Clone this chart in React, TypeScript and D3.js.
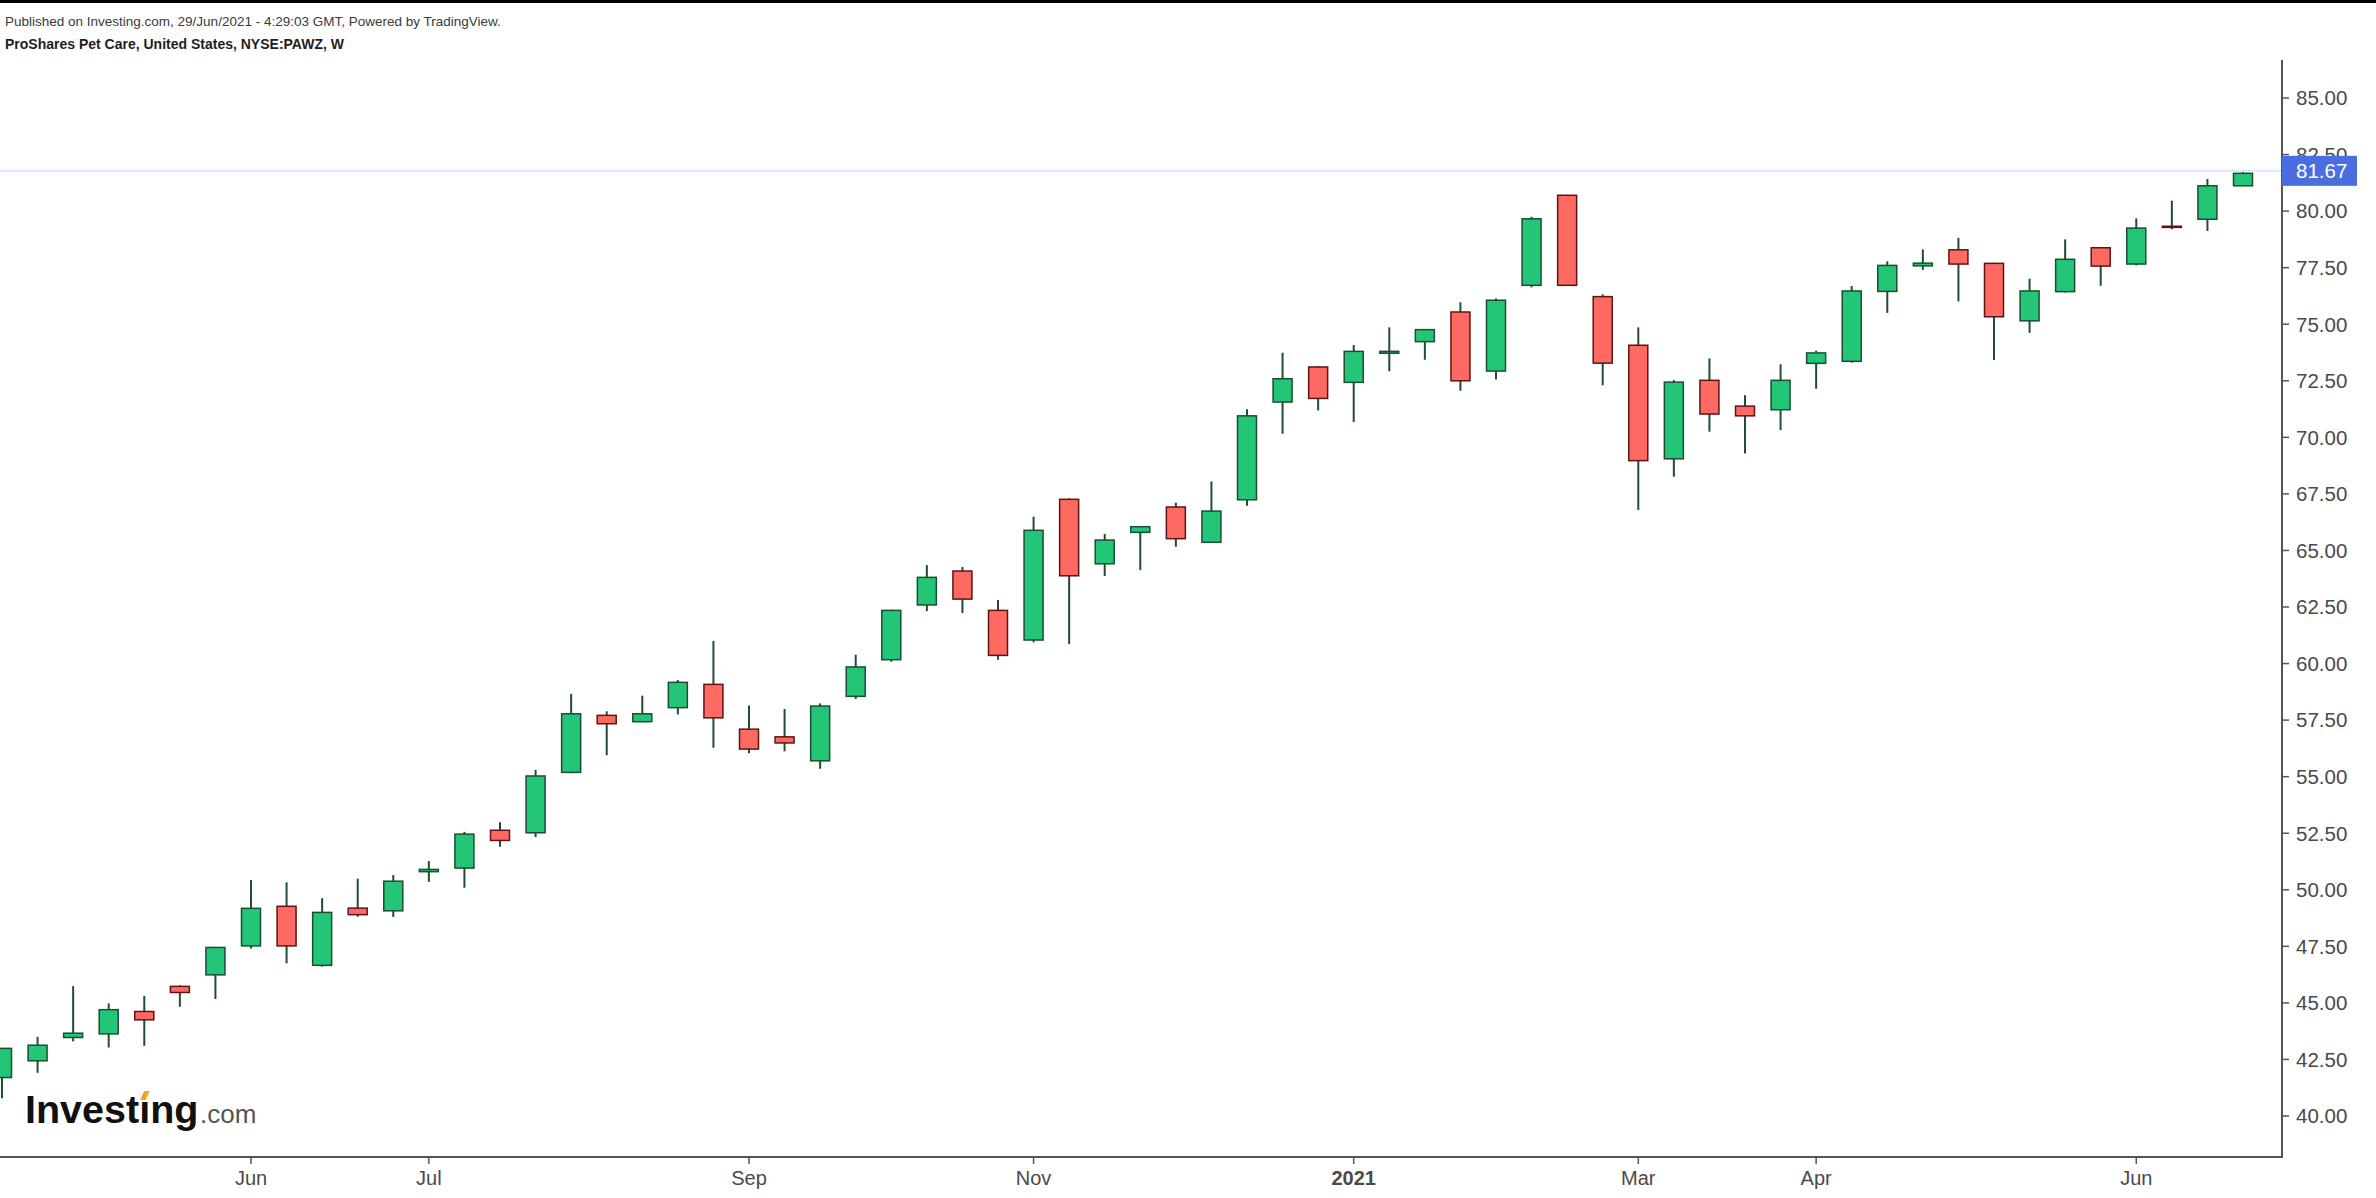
import React, { useLayoutEffect, useRef, useState } from "react";
import * as d3 from "d3";

// Weekly bars, NYSE:PAWZ
const dates = [
  "2020-04-13","2020-04-20","2020-04-27","2020-05-04","2020-05-11","2020-05-18","2020-05-25","2020-06-01",
  "2020-06-08","2020-06-15","2020-06-22","2020-06-29","2020-07-06","2020-07-13","2020-07-20","2020-07-27",
  "2020-08-03","2020-08-10","2020-08-17","2020-08-24","2020-08-31","2020-09-07","2020-09-14","2020-09-21",
  "2020-09-28","2020-10-05","2020-10-12","2020-10-19","2020-10-26","2020-11-02","2020-11-09","2020-11-16",
  "2020-11-23","2020-11-30","2020-12-07","2020-12-14","2020-12-21","2020-12-28","2021-01-04","2021-01-11",
  "2021-01-18","2021-01-25","2021-02-01","2021-02-08","2021-02-15","2021-02-22","2021-03-01","2021-03-08",
  "2021-03-15","2021-03-22","2021-03-29","2021-04-05","2021-04-12","2021-04-19","2021-04-26","2021-05-03",
  "2021-05-10","2021-05-17","2021-05-24","2021-05-31","2021-06-07","2021-06-14","2021-06-21","2021-06-28"
];

const opens = [
  41.70, 42.44, 43.47, 43.63, 44.62, 45.73, 46.24, 47.52,
  49.27, 46.66, 49.19, 49.07, 50.80, 50.96, 52.63, 52.52,
  55.19, 57.71, 57.43, 58.05, 59.08, 57.10, 56.76, 55.70,
  58.55, 60.17, 62.59, 64.09, 62.35, 61.04, 67.26, 64.41,
  65.80, 66.92, 65.36, 67.24, 71.56, 73.11, 72.43, 73.72,
  74.23, 75.54, 72.93, 76.72, 80.70, 76.22, 74.07, 69.05,
  72.52, 71.38, 71.22, 73.27, 73.36, 76.45, 77.58, 78.29,
  77.69, 75.15, 76.44, 78.38, 77.66, 79.33, 79.64, 81.12
];

const highs = [
  43.00, 43.50, 45.74, 44.98, 45.31, 45.78, 47.48, 50.43,
  50.33, 49.63, 50.49, 50.65, 51.27, 52.56, 52.98, 55.30,
  58.66, 57.89, 58.58, 59.27, 61.00, 58.15, 57.99, 58.24,
  60.39, 62.38, 64.35, 64.27, 62.81, 66.49, 67.30, 65.73,
  66.08, 67.11, 68.05, 71.24, 73.74, 73.14, 74.08, 74.86,
  74.78, 75.97, 76.14, 79.75, 80.72, 76.32, 74.86, 72.53,
  73.49, 71.86, 73.23, 73.83, 76.69, 77.78, 78.31, 78.82,
  77.72, 77.01, 78.75, 78.40, 79.68, 80.46, 81.42, 81.72
];

const lows = [
  40.78, 41.91, 43.30, 43.03, 43.10, 44.83, 45.17, 47.40,
  46.75, 46.60, 48.81, 48.80, 50.35, 50.09, 51.90, 52.33,
  55.15, 55.95, 57.40, 57.75, 56.28, 56.03, 56.12, 55.35,
  58.43, 60.08, 62.32, 62.23, 60.17, 60.94, 60.86, 63.87,
  64.13, 65.16, 65.33, 66.98, 70.16, 71.19, 70.68, 72.92,
  73.43, 72.06, 72.56, 76.63, 76.70, 72.30, 66.79, 68.26,
  70.25, 69.29, 70.32, 72.15, 73.30, 75.50, 77.40, 76.01,
  73.42, 74.62, 76.40, 76.70, 77.60, 79.20, 79.12, 81.10
];

const closes = [
  42.99, 43.13, 43.66, 44.70, 44.25, 45.46, 47.45, 49.18,
  47.52, 49.00, 48.90, 50.38, 50.90, 52.46, 52.18, 55.03,
  57.78, 57.34, 57.78, 59.17, 57.60, 56.22, 56.49, 58.12,
  59.85, 62.35, 63.81, 62.85, 60.36, 65.89, 63.88, 65.46,
  66.05, 65.52, 66.74, 70.95, 72.59, 71.72, 73.80, 73.80,
  74.76, 72.50, 76.06, 79.66, 76.72, 73.28, 68.97, 72.44,
  71.03, 70.95, 72.52, 73.73, 76.47, 77.60, 77.70, 77.66,
  75.33, 76.47, 77.87, 77.57, 79.25, 79.28, 81.12, 81.67
];

const tickDates = ["2020-06-01","2020-07-06","2020-09-07","2020-11-02","2021-01-04","2021-03-01","2021-04-05","2021-06-07"];
const tickLabels = ["Jun","Jul","Sep","Nov","2021","Mar","Apr","Jun"];
const yTicks = [40, 42.5, 45, 47.5, 50, 52.5, 55, 57.5, 60, 62.5, 65, 67.5, 70, 72.5, 75, 77.5, 80, 82.5, 85];
const lastPrice = 81.67;

const headerLine1 = "Published on Investing.com, 29/Jun/2021 - 4:29:03 GMT, Powered by TradingView.";
const headerLine2 = "ProShares Pet Care, United States, NYSE:PAWZ, W";

const W = 2376;
const H = 1198;
const AXIS_X = 2282;
const AXIS_Y = 1157;
const FONT = "'Liberation Sans', Arial, Helvetica, sans-serif";

const GREEN = "#22c676";
const RED = "#fe6a62";
const GREEN_BORDER = "#1b4d30";
const RED_BORDER = "#5e1414";
const WICK = "#1f4d36";
const AXIS_COLOR = "#555555";
const LABEL_COLOR = "#4a4a4a";

export default function App() {
  const x = d3.scalePoint<string>().domain(dates).range([2, 2243]);
  const y = d3.scaleLinear().domain([40, 85]).range([1116, 98]);
  const fmt = d3.format(".2f");
  const bodyW = 19;

  const logoRef = useRef<SVGTextElement | null>(null);
  const [dot, setDot] = useState<{ cx: number } | null>(null);

  useLayoutEffect(() => {
    const el = logoRef.current;
    if (el) {
      try {
        const ext = el.getExtentOfChar(6);
        setDot({ cx: ext.x + ext.width / 2 });
      } catch (e) {
        setDot({ cx: 144.5 });
      }
    }
  }, []);

  const candles = dates.map((d, i) => ({
    d,
    o: opens[i],
    h: highs[i],
    l: lows[i],
    c: closes[i],
  }));

  // price marker sits on the last bar's close
  const py = y(lastPrice) - 2.5;

  return (
    <svg
      width={W}
      height={H}
      style={{ position: "absolute", left: 0, top: 0, display: "block", background: "#ffffff" }}
      fontFamily={FONT}
    >
      <rect x={0} y={0} width={W} height={H} fill="#ffffff" />
      <rect x={0} y={0} width={W} height={3} fill="#000000" />

      {/* header */}
      <text x={5} y={26} fontSize={13.5} fill="#3a3a3a">{headerLine1}</text>
      <text x={5} y={49} fontSize={14} fontWeight="bold" fill="#1e1e1e">{headerLine2}</text>

      {/* last price line */}
      <line x1={0} x2={AXIS_X} y1={py} y2={py} stroke="#a3b3f3" strokeWidth={1} strokeDasharray="1 1" />

      {/* candles */}
      <g>
        {candles.map((k) => {
          const cx = x(k.d) as number;
          const up = k.c >= k.o;
          const top = y(Math.max(k.o, k.c));
          const bot = y(Math.min(k.o, k.c));
          return (
            <g key={k.d}>
              <line x1={cx} x2={cx} y1={y(k.h)} y2={y(k.l)} stroke={WICK} strokeWidth={2} />
              <rect
                x={cx - bodyW / 2}
                y={top}
                width={bodyW}
                height={Math.max(bot - top, 1)}
                fill={up ? GREEN : RED}
                stroke={up ? GREEN_BORDER : RED_BORDER}
                strokeWidth={1.5}
              />
            </g>
          );
        })}
      </g>

      {/* axes */}
      <line x1={0} x2={AXIS_X + 1} y1={AXIS_Y} y2={AXIS_Y} stroke={AXIS_COLOR} strokeWidth={2} />
      <line x1={AXIS_X} x2={AXIS_X} y1={60} y2={AXIS_Y} stroke={AXIS_COLOR} strokeWidth={2} />

      {yTicks.map((t) => (
        <g key={t}>
          <line x1={AXIS_X} x2={AXIS_X + 7} y1={y(t)} y2={y(t)} stroke={AXIS_COLOR} strokeWidth={1.5} />
          <text x={2296} y={y(t)} dy="0.36em" fontSize={20.5} fill={LABEL_COLOR}>{fmt(t)}</text>
        </g>
      ))}

      {tickDates.map((d, i) => {
        const tx = x(d) as number;
        return (
          <g key={d}>
            <line x1={tx} x2={tx} y1={AXIS_Y} y2={AXIS_Y + 7} stroke={AXIS_COLOR} strokeWidth={1.5} />
            <text
              x={tx}
              y={1185}
              textAnchor="middle"
              fontSize={20}
              fontWeight={tickLabels[i] === "2021" ? "bold" : "normal"}
              fill={LABEL_COLOR}
            >
              {tickLabels[i]}
            </text>
          </g>
        );
      })}

      {/* last price label */}
      <rect x={AXIS_X} y={py - 15} width={75} height={30} fill="#4a6ee0" />
      <text x={2296} y={py} dy="0.36em" fontSize={20.5} fill="#ffffff">{fmt(lastPrice)}</text>

      {/* logo */}
      <g>
        <text ref={logoRef} x={25} y={1123} fontSize={39.5} fontWeight="bold" fill="#111111">
          {"Investıng"}
        </text>
        <text x={200} y={1123} fontSize={26} fill="#555555">.com</text>
        {dot && (
          <path
            d={`M${dot.cx - 4.5},${1100} L${dot.cx - 0.5},${1091} L${dot.cx + 5},${1091} L${dot.cx + 1},${1100} Z`}
            fill="#f5a31b"
          />
        )}
      </g>
    </svg>
  );
}
